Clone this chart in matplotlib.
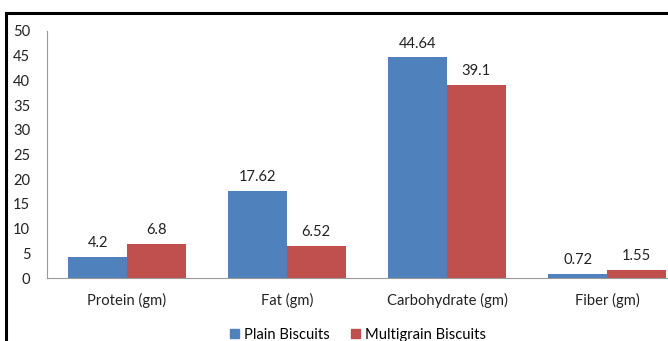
import numpy as np
import matplotlib
matplotlib.use('Agg')
import matplotlib.pyplot as plt
from matplotlib.lines import Line2D
from matplotlib.patches import Patch

categories = ['Protein (gm)', 'Fat (gm)', 'Carbohydrate (gm)', 'Fiber (gm)']
plain = [4.2, 17.62, 44.64, 0.72]
multigrain = [6.8, 6.52, 39.1, 1.55]
plain_labels = ['4.2', '17.62', '44.64', '0.72']
multi_labels = ['6.8', '6.52', '39.1', '1.55']
yticks = [0, 5, 10, 15, 20, 25, 30, 35, 40, 45, 50]

blue = '#4F81BD'
red = '#C0504D'

plt.rcParams['font.family'] = ['Lato', 'DejaVu Sans']

W, H = 668, 341
fig = plt.figure(figsize=(W / 100, H / 100), dpi=100)
# plot area runs past the right edge (chart is cropped there)
ax = fig.add_axes([47 / W, (H - 278) / H, 640 / W, (278 - 31) / H])

x = np.arange(len(categories))
bw = 0.366
b1 = ax.bar(x - bw / 2, plain, bw, color=blue)
b2 = ax.bar(x + bw / 2, multigrain, bw, color=red)

for bars, labs in ((b1, plain_labels), (b2, multi_labels)):
    for b, t in zip(bars, labs):
        ax.annotate(t, (b.get_x() + b.get_width() / 2, b.get_height()),
                    xytext=(0, 5), textcoords='offset points',
                    ha='center', va='bottom', fontsize=10.6, color='#222222')

ax.set_xlim(-0.5, len(categories) - 0.5)
ax.set_ylim(0, 50)
ax.set_yticks(yticks)
ax.set_xticks(x)
ax.set_xticklabels(categories)
ax.tick_params(axis='both', length=0, labelsize=10.6, colors='#222222')
ax.tick_params(axis='y', pad=12)
ax.tick_params(axis='x', pad=11)
for s in ['top', 'right']:
    ax.spines[s].set_visible(False)
for s in ['left', 'bottom']:
    ax.spines[s].set_color('#999999')
    ax.spines[s].set_linewidth(0.8)

handles = [Patch(color=blue, label='Plain Biscuits'),
           Patch(color=red, label='Multigrain Biscuits')]
fig.legend(handles=handles, loc='center', bbox_to_anchor=(358 / W, 1 - 335 / H),
           ncol=2, frameon=False, fontsize=10.6, handlelength=0.6, handleheight=0.6,
           handletextpad=0.3, columnspacing=1.5)

# black frame around chart (top and left visible)
fig.add_artist(Line2D([6 / W, 1], [1 - 12.5 / H, 1 - 12.5 / H], color='black', lw=2.2,
                      transform=fig.transFigure))
fig.add_artist(Line2D([6 / W, 6 / W], [0, 1 - 12.5 / H], color='black', lw=2.2,
                      transform=fig.transFigure))

fig.savefig('out.png', dpi=100)
